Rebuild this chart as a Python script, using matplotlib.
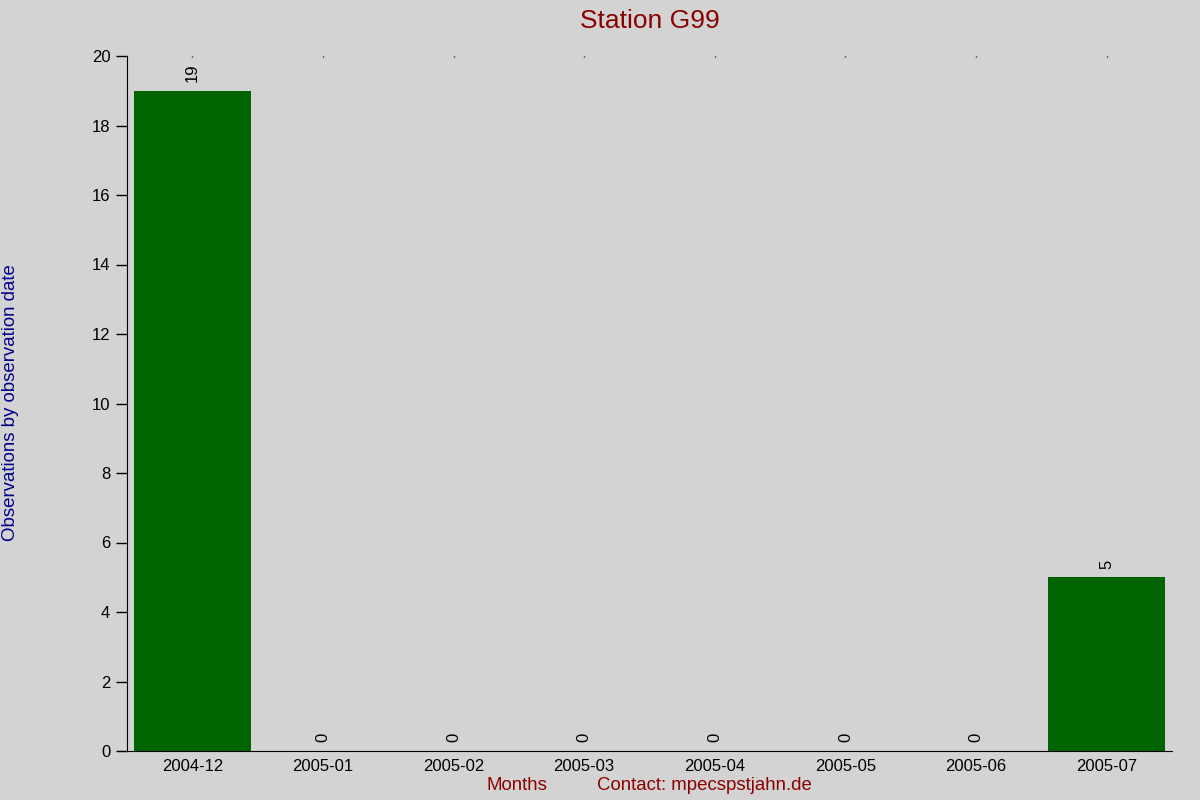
import matplotlib
matplotlib.use('Agg')
import matplotlib.pyplot as plt
import numpy as np

plt.rcParams['font.family'] = ['Liberation Sans', 'DejaVu Sans']

months = ['2004-12', '2005-01', '2005-02', '2005-03', '2005-04', '2005-05', '2005-06', '2005-07']
counts = [19, 0, 0, 0, 0, 0, 0, 5]

bg = '#d3d3d3'
fig = plt.figure(figsize=(12, 8), dpi=100, facecolor=bg)
ax = fig.add_axes([127 / 1200, 1 - 751 / 800, (1172 - 127) / 1200, (751 - 56) / 800])
ax.set_facecolor(bg)

x = np.arange(len(months))
ax.bar(x, counts, width=0.9, color='#006400')
for xi, c in zip(x, counts):
    ax.text(xi, c + 0.25, str(c), rotation=90, ha='center', va='bottom', fontsize=12)

ax.set_xlim(-0.5, len(months) - 0.5)
ax.set_ylim(0, 20)
ax.set_yticks(np.arange(0, 21, 2))
ax.set_xticks(x)
ax.set_xticklabels(months)
ax.tick_params(axis='y', direction='out', length=8, width=1, labelsize=12, pad=4)
ax.tick_params(axis='x', bottom=False, top=True, direction='in', length=0.8, width=1,
               labelbottom=True, labeltop=False, labelsize=12, pad=6)

for s in ['top', 'right']:
    ax.spines[s].set_visible(False)
ax.spines['bottom'].set_bounds(-0.57, len(months) - 0.5)

ax.set_title('Station G99', color='#8b0000', fontsize=19, pad=20)
fig.text(11 / 1200, 1 - 403 / 800, 'Observations by observation date', color='#00008b',
         fontsize=13.4, rotation=90, ha='center', va='center')
fig.text(517 / 1200, 1 - 786 / 800, 'Months', color='#8b0000', fontsize=13.4, ha='center', va='center')
fig.text(704 / 1200, 1 - 786 / 800, 'Contact: mpecspstjahn.de', color='#8b0000', fontsize=13.4,
         ha='center', va='center')

fig.savefig('out.png', dpi=100, facecolor=bg)
